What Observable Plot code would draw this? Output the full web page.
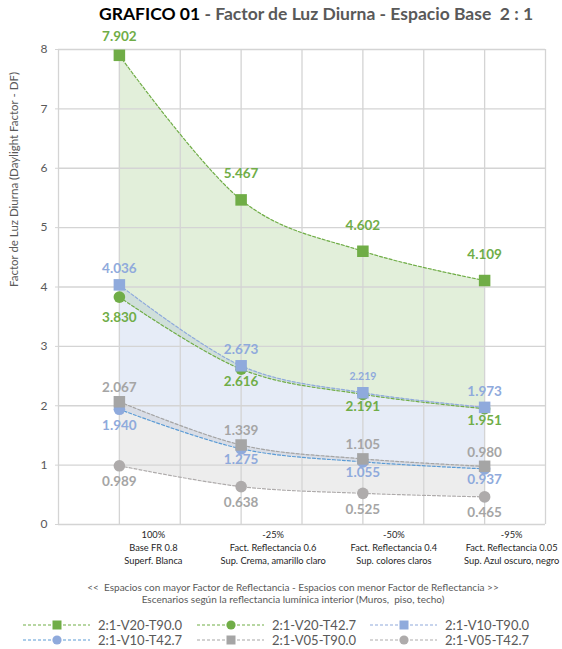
<!DOCTYPE html>
<html>
<head>
<meta charset="utf-8">
<script src="https://cdn.jsdelivr.net/npm/d3@7"></script>
<script src="https://cdn.jsdelivr.net/npm/@observablehq/plot@0.6"></script>
<style>
  body { margin: 0; background: #fff; font-family: Lato, "Noto Sans", sans-serif; }
  #wrap { position: relative; width: 562px; height: 649px; overflow: hidden; }
  #title { position: absolute; left: 0; top: 3px; width: 562px; padding-left: 70px; box-sizing: border-box;
           text-align: center; font-weight: 700; font-size: 17.5px; color: #595959; white-space: pre; }
  #chart { position: absolute; left: 0; top: 30px; }
  .cap { position: absolute; left: 0; width: 562px; padding-left: 24px; box-sizing: border-box;
         text-align: center; font-size: 10px; line-height: 12px; color: #595959; white-space: pre; }
  #legend { position: absolute; left: 0; top: 612px; }
</style>
</head>
<body>
<div id="wrap">
  <div id="title"><span style="color:#000">GRAFICO 01</span> - Factor de Luz Diurna - Espacio Base  2 : 1</div>
  <div id="chart"></div>
  <div class="cap" style="top:581px">&lt;&lt;  Espacios con mayor Factor de Reflectancia - Espacios con menor Factor de Reflectancia &gt;&gt;</div>
  <div class="cap" style="top:593px">Escenarios según la reflectancia lumínica interior (Muros,  piso, techo)</div>
  <svg id="legend" width="562" height="37"></svg>
</div>
<script>
// Scenario categories (x axis, three-line labels)
const pct = ["100%", "-25%", "-50%", "-95%"];
const reflectance = ["Base FR 0.8", "Fact. Reflectancia 0.6", "Fact. Reflectancia 0.4", "Fact. Reflectancia 0.05"];
const surfaces = ["Superf. Blanca", "Sup. Crema, amarillo claro", "Sup. colores claros", "Sup. Azul oscuro, negro"];

// Daylight factor per series
const seriesNames = ["2:1-V20-T90.0", "2:1-V20-T42.7", "2:1-V10-T90.0", "2:1-V10-T42.7", "2:1-V05-T90.0", "2:1-V05-T42.7"];
const v20t90  = [7.902, 5.467, 4.602, 4.109];
const v20t427 = [3.830, 2.616, 2.191, 1.951];
const v10t90  = [4.036, 2.673, 2.219, 1.973];
const v10t427 = [1.940, 1.275, 1.055, 0.937];
const v05t90  = [2.067, 1.339, 1.105, 0.980];
const v05t427 = [0.989, 0.638, 0.525, 0.465];

const yTicks = [0, 1, 2, 3, 4, 5, 6, 7, 8];
const yLabel = "Factor de Luz Diurna (Daylight Factor - DF)";

const idx = d3.range(pct.length);
const pos = i => i + 1;
const fmt = d3.format(".3f");

const series = [
  {name: seriesNames[0], values: v20t90,  line: "#70AD47", fill: "#70AD47", symbol: "square", text: "#70AD47"},
  {name: seriesNames[1], values: v20t427, line: "#70AD47", fill: "#70AD47", symbol: "circle", text: "#70AD47"},
  {name: seriesNames[2], values: v10t90,  line: "#8FAADC", fill: "#8FAADC", symbol: "square", text: "#8FAADC"},
  {name: seriesNames[3], values: v10t427, line: "#5B9BD5", fill: "#8FAADC", symbol: "circle", text: "#8FAADC"},
  {name: seriesNames[4], values: v05t90,  line: "#A5A5A5", fill: "#A5A5A5", symbol: "square", text: "#A5A5A5"},
  {name: seriesNames[5], values: v05t427, line: "#AEABAB", fill: "#AEABAB", symbol: "circle", text: "#A5A5A5"}
];

// vertical offset of each value label from its marker
function labelDy(s, i) {
  switch (s) {
    case 0: return i === 0 ? -19 : -26;
    case 1: return i === 0 ? 21 : 12;
    case 2: return -16;
    case 3: return i === 0 ? 16 : 11;
    case 4: return -14;
    default: return 16;
  }
}
// horizontal shift of each category label from its category centre
const catShift = i => [34, 32, 31, 27][i];

const bands = [
  {lo: v20t427, hi: v20t90, color: "#70AD47", op: 0.2},
  {lo: v10t427, hi: v10t90, color: "#8FAADC", op: 0.22},
  {lo: v05t427, hi: v05t90, color: "#A5A5A5", op: 0.2}
];

const marks = [];
// shaded ranges between each pair of scenarios
for (const b of bands) {
  marks.push(Plot.areaY(idx, {x: pos, y1: i => b.lo[i], y2: i => b.hi[i], fill: b.color, fillOpacity: b.op, curve: "cardinal"}));
}
// gridlines
marks.push(Plot.ruleY(yTicks, {stroke: "#D4D4D4", strokeWidth: 1.3}));
marks.push(Plot.ruleX(d3.range(0.5, 4.51, 0.5), {y1: 0, y2: 8, stroke: "#D4D4D4", strokeWidth: 1.3}));
marks.push(Plot.axisY({ticks: yTicks, tickSize: 3, tickPadding: 8, stroke: "#D4D4D4", fill: "#595959", fontSize: 12, label: null}));
// series lines and markers
for (const s of series) {
  marks.push(Plot.line(idx, {x: pos, y: i => s.values[i], stroke: s.line, strokeWidth: 1.2, strokeDasharray: "3,2", curve: "cardinal"}));
}
for (const s of series) {
  marks.push(Plot.dot(idx, {x: pos, y: i => s.values[i], symbol: s.symbol, r: s.symbol === "square" ? 6.5 : 5.8, fill: s.fill, stroke: "none"}));
}
// value labels
series.forEach((s, k) => {
  idx.forEach(i => {
    const small = k === 2 && i === 2;
    marks.push(Plot.text([i], {x: pos, y: j => s.values[j], text: j => fmt(s.values[j]), dy: labelDy(k, i),
      fill: s.text, fontWeight: 700, fontSize: small ? 10.5 : 13.5}));
  });
});
// category labels
idx.forEach(i => {
  marks.push(Plot.text([i], {x: pos, frameAnchor: "bottom", lineAnchor: "top", dy: 4, dx: catShift(i),
    text: j => `${pct[j]}\n${reflectance[j]}\n${surfaces[j]}`, fontSize: 9.3, lineHeight: 1.4, fill: "#262626"}));
});
// y-axis title
marks.push(Plot.text([yLabel], {frameAnchor: "left", dx: -44, rotate: -90, fontSize: 11.5, fill: "#595959"}));

const chart = Plot.plot({
  width: 562,
  height: 582,
  marginTop: 19,
  marginBottom: 88,
  marginLeft: 58,
  marginRight: 17,
  x: {domain: [0.5, 4.5], axis: null},
  y: {domain: [0, 8], axis: null},
  style: {fontFamily: "Lato, 'Noto Sans', sans-serif", background: "transparent", overflow: "visible"},
  marks
});
document.getElementById("chart").append(chart);

// legend: three columns, two rows
const lg = d3.select("#legend");
const colX = [23, 197, 370];
series.forEach((s, k) => {
  const x0 = colX[k % 3], y = k < 3 ? 13 : 28;
  const g = lg.append("g");
  g.append("line").attr("x1", x0).attr("x2", x0 + 67).attr("y1", y).attr("y2", y)
    .attr("stroke", s.line).attr("stroke-width", 1.2).attr("stroke-dasharray", "3,2");
  if (s.symbol === "square") {
    g.append("rect").attr("x", x0 + 34 - 4.5).attr("y", y - 4.5).attr("width", 9).attr("height", 9).attr("fill", s.fill);
  } else {
    g.append("circle").attr("cx", x0 + 34).attr("cy", y).attr("r", 4.6).attr("fill", s.fill);
  }
  g.append("text").attr("x", x0 + 75).attr("y", y).attr("dy", "0.35em")
    .attr("font-size", 13).attr("fill", "#595959").text(s.name);
});
</script>
</body>
</html>
